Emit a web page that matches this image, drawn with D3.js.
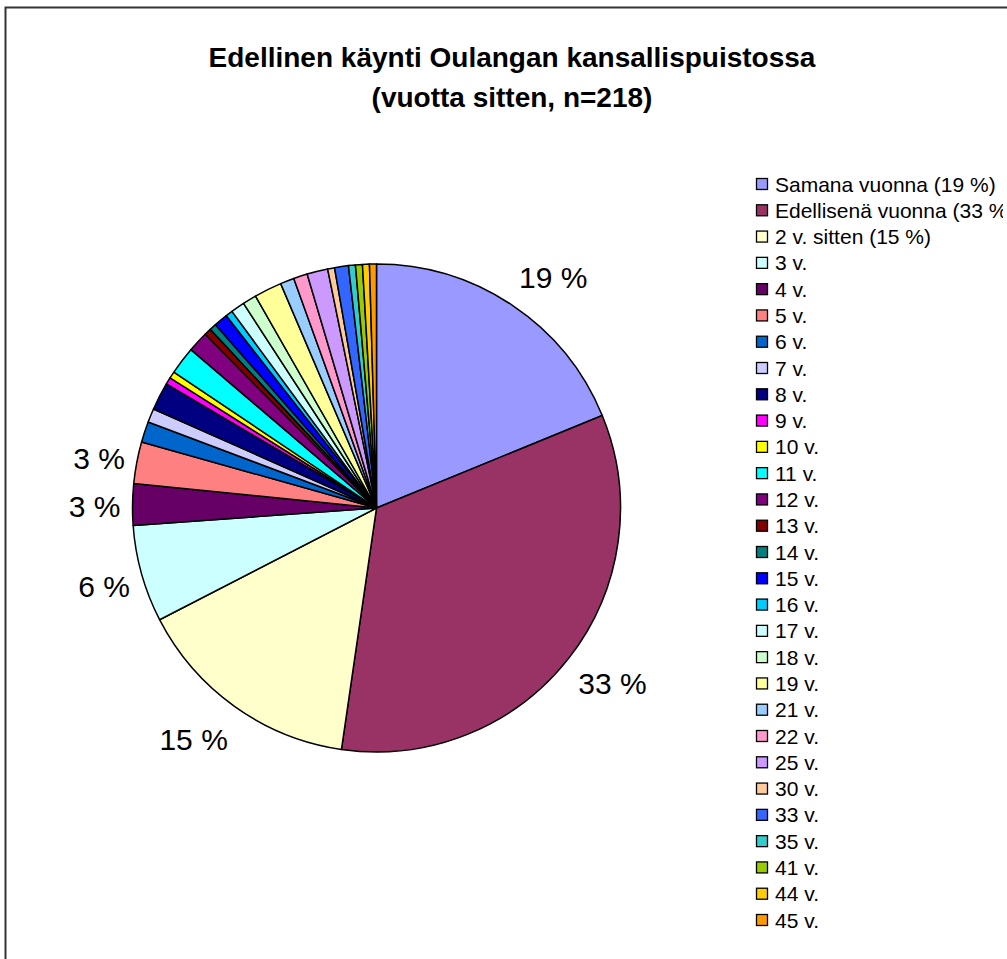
<!DOCTYPE html>
<html>
<head>
<meta charset="utf-8">
<script src="https://cdn.jsdelivr.net/npm/d3@7"></script>
<style>
  body { margin: 0; background: #fff; }
  text { font-family: Arial, "Liberation Sans", sans-serif; }
</style>
</head>
<body>
<div id="chart"></div>
<script>
var svgWidth = 1007;
var svgHeight = 959;

// categories, respondent counts (n=218) and slice colours
var categories = ["Samana vuonna (19 %)", "Edellisenä vuonna (33 %)", "2 v. sitten (15 %)",
  "3 v.", "4 v.", "5 v.", "6 v.", "7 v.", "8 v.", "9 v.", "10 v.", "11 v.", "12 v.", "13 v.",
  "14 v.", "15 v.", "16 v.", "17 v.", "18 v.", "19 v.", "21 v.", "22 v.", "25 v.", "30 v.",
  "33 v.", "35 v.", "41 v.", "44 v.", "45 v."];
var counts = [41, 73, 33, 14, 6, 6, 3, 2, 4, 1, 1, 4, 3, 1, 1, 2, 1, 2, 2, 4, 2, 2, 3, 1, 2, 1, 1, 1, 1];
var colors = ["#9999FF", "#993366", "#FFFFCC", "#CCFFFF", "#660066", "#FF8080", "#0066CC", "#CCCCFF",
  "#000080", "#FF00FF", "#FFFF00", "#00FFFF", "#800080", "#800000", "#008080", "#0000FF", "#00CCFF",
  "#CCFFFF", "#CCFFCC", "#FFFF99", "#99CCFF", "#FF99CC", "#CC99FF", "#FFCC99", "#3366FF", "#33CCCC",
  "#99CC00", "#FFCC00", "#FF9900"];
// data labels shown only for the six largest groups
var sliceLabels = ["19 %", "33 %", "15 %", "6 %", "3 %", "3 %"];

var titleLines = ["Edellinen käynti Oulangan kansallispuistossa", "(vuotta sitten, n=218)"];

var cx = 376.5, cy = 508, radius = 244;

var svg = d3.select("#chart")
    .append("svg")
    .attr("width", svgWidth)
    .attr("height", svgHeight);

// legend box is narrower than its longest entry, so it gets clipped
svg.append("defs").append("clipPath")
    .attr("id", "legendClip")
    .append("rect")
    .attr("x", 740)
    .attr("y", 160)
    .attr("width", 263)
    .attr("height", 790);

// chart area frame (runs off the right and bottom edge)
svg.append("rect")
    .attr("x", 5.5)
    .attr("y", 7.5)
    .attr("width", 1020)
    .attr("height", 980)
    .attr("fill", "none")
    .attr("stroke", "#333")
    .attr("stroke-width", 2);

svg.append("g").selectAll("text")
    .data(titleLines)
    .enter()
    .append("text")
    .attr("x", 512)
    .attr("y", (d, i) => 67 + i * 40)
    .attr("text-anchor", "middle")
    .attr("font-size", "28px")
    .attr("font-weight", "bold")
    .attr("fill", "black")
    .text(d => d);

var data = categories.map((c, i) => ({ name: c, value: counts[i], color: colors[i] }));

var pie = d3.pie()
    .sort(null)
    .value(d => d.value);

var arcs = pie(data);

var arc = d3.arc()
    .innerRadius(0)
    .outerRadius(radius);

var pieGroup = svg.append("g")
    .attr("transform", `translate(${cx}, ${cy})`);

pieGroup.selectAll("path")
    .data(arcs)
    .enter()
    .append("path")
    .attr("d", arc)
    .attr("fill", d => d.data.color)
    .attr("stroke", "black")
    .attr("stroke-width", 1.5)
    .attr("stroke-linejoin", "round");

// outside labels: box pushed out from a point just beyond the rim
var labels = pieGroup.selectAll("text.slice")
    .data(arcs.slice(0, sliceLabels.length))
    .enter()
    .append("text")
    .attr("class", "slice")
    .attr("dy", "0.35em")
    .attr("text-anchor", "middle")
    .attr("font-size", "30px")
    .attr("fill", "black")
    .text((d, i) => sliceLabels[i]);

labels.each(function(d) {
    var a = (d.startAngle + d.endAngle) / 2;
    var s = Math.sin(a), c = Math.cos(a);
    var w = this.getComputedTextLength();
    var r = radius + 12;
    d3.select(this)
      .attr("x", s * r + Math.sign(s) * w / 2)
      .attr("y", -c * r - c * 25 + 3);
});

// legend
var legendY = d3.scalePoint()
    .domain(categories)
    .range([184, 920]);

var legend = svg.append("g")
    .attr("clip-path", "url(#legendClip)")
    .selectAll("g")
    .data(data)
    .enter()
    .append("g")
    .attr("transform", d => `translate(756, ${legendY(d.name)})`);

legend.append("rect")
    .attr("x", 0.5)
    .attr("y", -5.5)
    .attr("width", 11)
    .attr("height", 11)
    .attr("fill", d => d.color)
    .attr("stroke", "black")
    .attr("stroke-width", 1.3);

legend.append("text")
    .attr("x", 19)
    .attr("y", 0)
    .attr("dy", "0.36em")
    .attr("font-size", "21px")
    .attr("fill", "black")
    .text(d => d.name);
</script>
</body>
</html>
